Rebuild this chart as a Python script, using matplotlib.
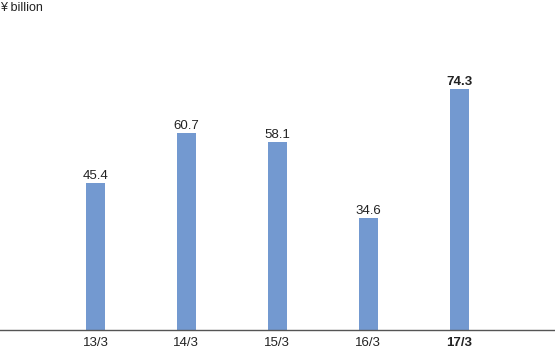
import matplotlib
matplotlib.use("Agg")
import matplotlib.pyplot as plt

# data
years = ["13/3", "14/3", "15/3", "16/3", "17/3"]
values = [45.4, 60.7, 58.1, 34.6, 74.3]

plt.rcParams['font.family'] = ['Liberation Sans', 'DejaVu Sans']

fig = plt.figure(figsize=(5.55, 3.5), dpi=100)
ax = fig.add_axes([0, 20 / 350, 1, 330 / 350])

x = list(range(len(years)))
bar_color = "#7399d0"
ax.bar(x, values, width=0.21, color=bar_color, zorder=2)

for i, v in enumerate(values):
    bold = i == len(values) - 1
    ax.text(i, v + 0.3, f"{v:.1f}", ha="center", va="bottom", fontsize=9.5,
            color="#222222", fontweight="bold" if bold else "normal")

ax.set_xlim(-1.05, 5.055)
ax.set_ylim(0, 101.8)

for s in ["top", "right", "left"]:
    ax.spines[s].set_visible(False)
ax.spines["bottom"].set_color("#555555")
ax.spines["bottom"].set_linewidth(1.0)

ax.set_yticks([])
ax.set_xticks(x)
ax.set_xticklabels(years, fontsize=9.5, color="#222222")
ax.tick_params(axis="x", length=0, pad=5)
ax.get_xticklabels()[-1].set_fontweight("bold")

fig.text(0.0, 1 - 8 / 350, "¥ billion", ha="left", va="center", fontsize=9, color="#222222")

fig.savefig("out.png", dpi=100)
